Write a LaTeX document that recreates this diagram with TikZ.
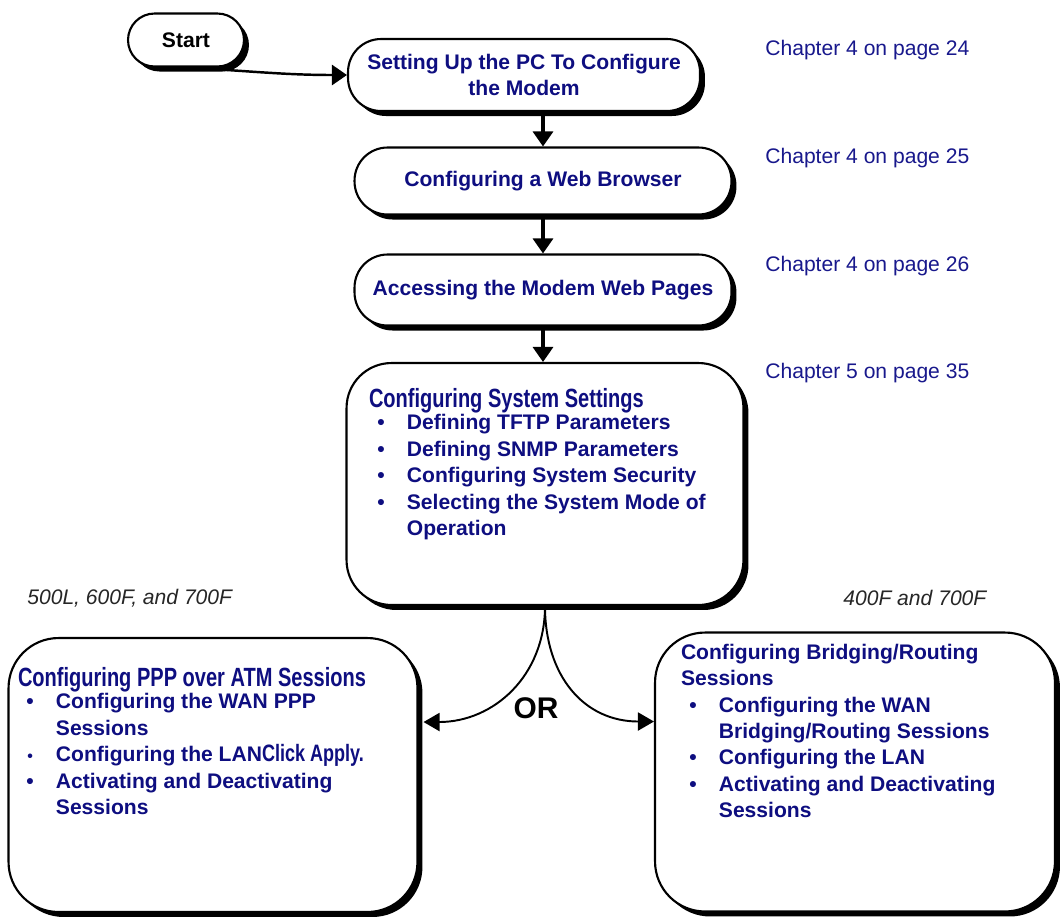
\documentclass[tikz,border=0pt]{standalone}
\usepackage{fontspec}
\setmainfont{Liberation Sans}
\newfontfamily\condfont{Liberation Sans}[FakeStretch=0.76]
\usepackage{tikz}
\usepackage{xcolor}
\usetikzlibrary{shapes.geometric, arrows.meta, shadows}
\definecolor{navy}{RGB}{14,14,128}
\definecolor{chap}{RGB}{24,24,140}
\newcommand{\bul}{\makebox[21.6pt][l]{\hspace{4.8pt}\textbullet}}
\newcommand{\sbul}{\makebox[21.6pt][l]{\hspace{5.4pt}{\fontsize{9}{9}\selectfont\textbullet}}}
\newcommand{\ind}{\hspace*{21.6pt}}
\newcommand{\cond}[1]{{\condfont\fontsize{15}{15}\selectfont #1}}
\tikzstyle{boxshadow} = [drop shadow={opacity=1, fill=black, shadow xshift=0.1cm, shadow yshift=-0.1cm}]
\tikzstyle{pill} = [rectangle, draw, line width=1.2pt, fill=white, rounded corners=0.66cm, boxshadow, text=navy, align=center, font=\fontsize{12}{15}\selectfont\bfseries]
\tikzstyle{bigbox} = [rectangle, draw, line width=1.2pt, fill=white, rounded corners=1cm, boxshadow]
\tikzstyle{boxtext} = [inner sep=0, outer sep=0, anchor=north west, align=left, text=navy, font=\fontsize{12}{15}\selectfont\bfseries]
\tikzstyle{chapter} = [inner sep=0, anchor=west, text=chap, font=\fontsize{12}{14}\selectfont]
\tikzstyle{model} = [inner sep=0, anchor=west, text=black!85, font=\fontsize{12}{14}\selectfont\itshape]
\tikzstyle{line} = [draw, line width=1.8pt, -{Triangle[length=0.3cm, width=0.4cm]}]
\tikzstyle{branch} = [draw, line width=1.1pt, -{Triangle[length=0.32cm, width=0.36cm]}]

\begin{document}
\begin{tikzpicture}[x=0.02cm, y=-0.02cm]
\useasboundingbox (0,0) rectangle (1062,921);

\node [pill, text=black, minimum width=2.32cm, minimum height=1.06cm, rounded corners=0.53cm] (St) at (186,40) {Start};
\node [pill, minimum width=7.04cm, minimum height=1.44cm] (PC) at (524,75) {Setting Up the PC To Configure\\the Modem};
\node [pill, minimum width=7.54cm, minimum height=1.34cm] (WB) at (543,181) {Configuring a Web Browser};
\node [pill, minimum width=7.54cm, minimum height=1.42cm] (MW) at (543,290) {Accessing the Modem Web Pages};
\node [bigbox, minimum width=7.94cm, minimum height=4.84cm, rounded corners=0.9cm] (SS) at (545,484) {};
\node [bigbox, minimum width=8.18cm, minimum height=5.48cm] (PPP) at (213,775) {};
\node [bigbox, minimum width=8cm, minimum height=5.58cm] (BR) at (855,772) {};

\node [boxtext] (SSt) at (369,388) {\cond{Configuring System Settings}\\[-2pt]
\bul Defining TFTP Parameters\\
\bul Defining SNMP Parameters\\
\bul Configuring System Security\\
\bul Selecting the System Mode of\\
\ind Operation};
\node [boxtext] (PPPt) at (18,667) {\cond{Configuring PPP over ATM Sessions}\\[-2pt]
\bul Configuring the WAN PPP\\
\ind Sessions\\
\sbul Configuring the LAN{\condfont\fontsize{13.5}{15}\selectfont Click Apply.}\\
\bul Activating and Deactivating\\
\ind Sessions};
\node [boxtext] (BRt) at (681,644) {Configuring Bridging/Routing\\
Sessions\\
\bul Configuring the WAN\\
\ind Bridging/Routing Sessions\\
\bul Configuring the LAN\\
\bul Activating and Deactivating\\
\ind Sessions};

\node [chapter] (c1) at (765,50) {Chapter 4 on page 24};
\node [chapter] (c2) at (765,158) {Chapter 4 on page 25};
\node [chapter] (c3) at (765,266) {Chapter 4 on page 26};
\node [chapter] (c4) at (765,373) {Chapter 5 on page 35};
\node [model] (m1) at (27,598) {500L, 600F, and 700F};
\node [model] (m2) at (843,598) {400F and 700F};
\node [font=\fontsize{17}{17}\selectfont\bfseries] (OR) at (536,708) {OR};

\path [line, line width=1.4pt] (St.south) to[out=-3, in=180] (PC.west);
\path [line] (PC.south -| WB.north) -- (WB.north);
\path [line] (WB.south) -- (MW.north);
\path [line] (MW.south) -- (MW.south |- SS.north);
\path [branch] (SS.south) .. controls +(0,70) and +(70,0) .. ([xshift=0.1cm, yshift=1.06cm]PPP.east);
\path [branch] (SS.south) .. controls +(0,70) and +(-70,0) .. ([yshift=1.01cm]BR.west);

\end{tikzpicture}
\end{document}
